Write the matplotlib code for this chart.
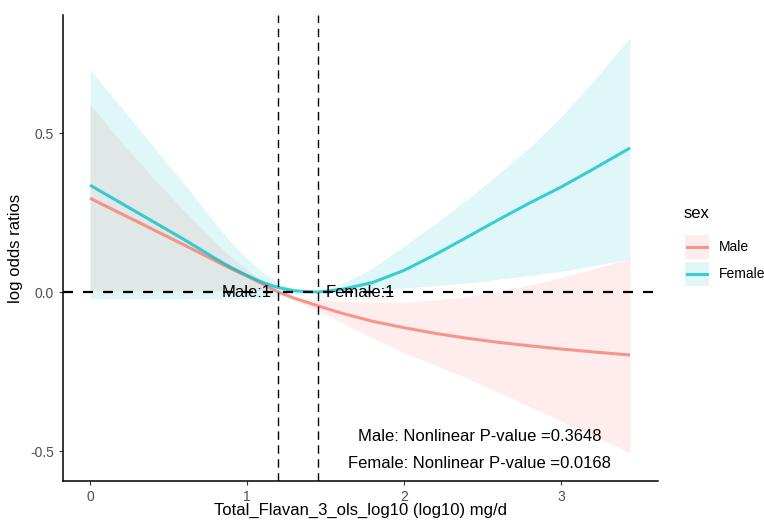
import matplotlib
matplotlib.use("Agg")
import matplotlib.pyplot as plt
from matplotlib.patches import Rectangle
from matplotlib.lines import Line2D

plt.rcParams['font.family'] = ['Liberation Sans', 'DejaVu Sans']

# values
x_grid = [0, 0.2, 0.4, 0.6, 0.8, 0.9, 1.0, 1.1, 1.2, 1.3, 1.45, 1.6, 1.8,
          2.0, 2.2, 2.4, 2.6, 2.8, 3.0, 3.2, 3.44]

male_fit = [0.295, 0.246, 0.197, 0.148, 0.098, 0.073, 0.050, 0.025, 0.0, -0.019, -0.043,
            -0.066, -0.092, -0.112, -0.13, -0.145, -0.158, -0.169, -0.179, -0.188, -0.198]
male_upper = [0.59, 0.47, 0.36, 0.255, 0.155, 0.11, 0.07, 0.035, 0.0, -0.015, -0.025,
              -0.03, -0.033, -0.032, -0.025, -0.015, 0.002, 0.022, 0.045, 0.072, 0.107]
male_lower = [0.005, 0.005, 0.005, 0.005, 0.005, 0.005, 0.005, 0.004, 0.0, -0.025, -0.06,
              -0.095, -0.145, -0.19, -0.23, -0.27, -0.315, -0.36, -0.405, -0.45, -0.505]

female_fit = [0.336, 0.279, 0.222, 0.165, 0.105, 0.077, 0.052, 0.03, 0.014, 0.004, 0.0,
              0.008, 0.03, 0.068, 0.118, 0.172, 0.227, 0.28, 0.33, 0.385, 0.453]
female_upper = [0.70, 0.58, 0.46, 0.34, 0.215, 0.155, 0.105, 0.062, 0.03, 0.01, 0.0,
                0.025, 0.075, 0.145, 0.215, 0.29, 0.37, 0.455, 0.55, 0.66, 0.80]
female_lower = [-0.02, -0.02, -0.02, -0.02, -0.02, -0.02, -0.02, -0.017, -0.012, -0.006, 0.0,
                0.003, 0.007, 0.013, 0.02, 0.028, 0.04, 0.052, 0.065, 0.082, 0.105]

ref_male = 1.2
ref_female = 1.452
p_male = "0.3648"
p_female = "0.0168"
groups = ['Male', 'Female']

male_col = '#F8766D'
female_col = '#00BFC4'

fig = plt.figure(figsize=(7.64, 5.21), dpi=100)
ax = fig.add_axes([63/764, 40/521, 595/764, 466/521])

ax.fill_between(x_grid, male_lower, male_upper, color=male_col, alpha=0.13, lw=0)
ax.fill_between(x_grid, female_lower, female_upper, color=female_col, alpha=0.12, lw=0)
ax.plot(x_grid, male_fit, color=male_col, alpha=0.75, lw=2.2, solid_capstyle='butt')
ax.plot(x_grid, female_fit, color=female_col, alpha=0.75, lw=2.2, solid_capstyle='butt')

ax.axhline(0, color='black', lw=1.6, dashes=(4.5, 4.5))
for r in [ref_male, ref_female]:
    ax.axvline(r, color='black', lw=1.0, dashes=(6, 4))

ax.text(1.0, 0, "Male:1", ha='center', va='center', fontsize=12)
ax.text(1.72, 0, "Female:1", ha='center', va='center', fontsize=12)
ax.text(2.48, -0.453, "Male: Nonlinear P-value =" + p_male, ha='center', va='center', fontsize=12)
ax.text(2.48, -0.54, "Female: Nonlinear P-value =" + p_female, ha='center', va='center', fontsize=12)

ax.set_xlim(-0.172, 3.618)
ax.set_ylim(-0.594, 0.871)
ax.set_xticks([0, 1, 2, 3])
ax.set_yticks([-0.5, 0.0, 0.5])
ax.set_yticklabels(['-0.5', '0.0', '0.5'])
ax.tick_params(colors='#333333', labelcolor='#4D4D4D', labelsize=10, length=3, width=0.8)
for s in ['top', 'right']:
    ax.spines[s].set_visible(False)
for s in ['left', 'bottom']:
    ax.spines[s].set_linewidth(1.1)
ax.set_xlabel("Total_Flavan_3_ols_log10 (log10) mg/d", fontsize=12, labelpad=-1)
ax.set_ylabel("log odds ratios", fontsize=12, labelpad=5)

# legend drawn by hand (ggplot style keys)
W, H = 764, 521
fig.text(684/W, 1 - 213/H, 'sex', fontsize=12, ha='left', va='center')
for i, (name, col, a) in enumerate(zip(groups, [male_col, female_col], [0.13, 0.12])):
    top = 235 + i * 27
    fig.add_artist(Rectangle((685/W, 1 - (top + 24)/H), 24/W, 24/H, transform=fig.transFigure,
                             facecolor=col, alpha=a, lw=0))
    fig.add_artist(Line2D([687/W, 707/W], [1 - (top + 12)/H] * 2, transform=fig.transFigure,
                          color=col, alpha=0.75, lw=2.2))
    fig.text(719/W, 1 - (top + 12)/H, name, fontsize=10, ha='left', va='center')

fig.savefig('out.png', dpi=100)
